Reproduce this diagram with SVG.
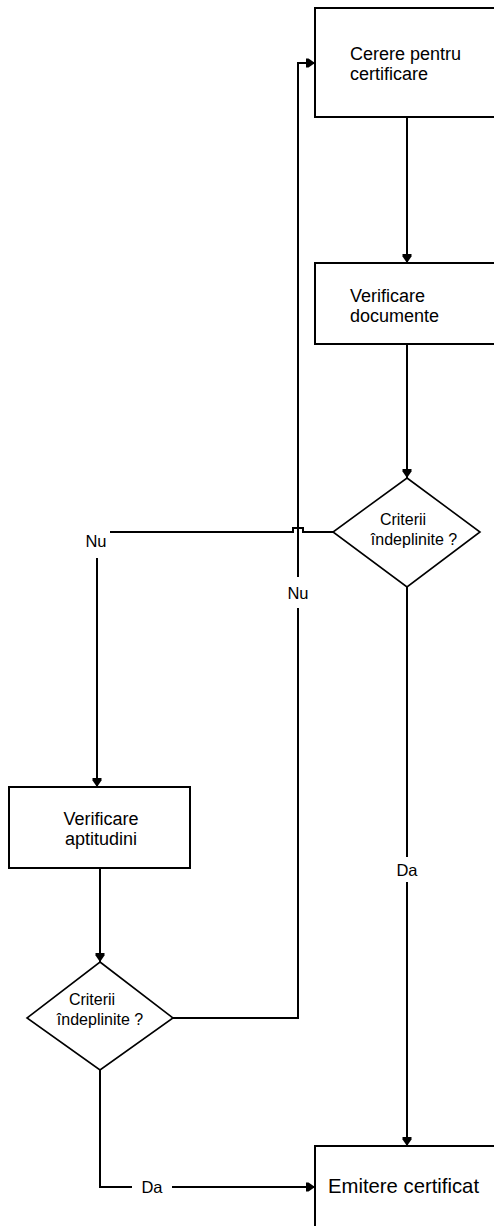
<svg xmlns="http://www.w3.org/2000/svg" width="494" height="1226" viewBox="0 0 494 1226">
  <style>
    .box { fill: #ffffff; stroke: #000000; stroke-width: 2; }
    .dia { fill: #ffffff; stroke: #000000; stroke-width: 1.6; }
    .wire { fill: none; stroke: #000000; stroke-width: 2; }
    .t { font-family: "Liberation Sans", Arial, sans-serif; fill: #000000; }
    .bt { font-size: 18px; }
    .dt { font-size: 16px; text-anchor: middle; }
    .lbl { font-size: 16.5px; text-anchor: middle; }
    .big { font-size: 20.3px; }
  </style>
  <defs>
    <marker id="head" viewBox="0 0 9 10" refX="9" refY="5" markerWidth="9" markerHeight="10" markerUnits="userSpaceOnUse" orient="auto">
      <path d="M0,0.5 L2.5,0.5 L9,5 L2.5,9.5 L0,9.5 Z" fill="#000000"/>
    </marker>
  </defs>
  <rect width="494" height="1226" fill="#ffffff"/>

  <!-- connectors -->
  <g id="connectors">
    <!-- request -> document check -->
    <path class="wire" d="M407,117 V263" marker-end="url(#head)"/>
    <!-- document check -> criteria decision -->
    <path class="wire" d="M407,344 V478" marker-end="url(#head)"/>
    <!-- decision 1: Nu, with a line hop over the return path -->
    <path class="wire" d="M333,532 H303 V528 H293 V532 H110"/>
    <path class="wire" d="M97,558 V787" marker-end="url(#head)"/>
    <!-- decision 1: Da -->
    <path class="wire" d="M407,587 V857"/>
    <path class="wire" d="M407,882 V1146" marker-end="url(#head)"/>
    <!-- aptitude check -> criteria decision 2 -->
    <path class="wire" d="M100,868 V962" marker-end="url(#head)"/>
    <!-- decision 2: Nu, back to the request -->
    <path class="wire" d="M173,1018 H298 V608"/>
    <path class="wire" d="M298,577 V63 H315" marker-end="url(#head)"/>
    <!-- decision 2: Da -->
    <path class="wire" d="M100,1070 V1187 H132"/>
    <path class="wire" d="M172,1187 H315" marker-end="url(#head)"/>
    <text class="t lbl" x="96" y="547">Nu</text>
    <text class="t lbl" x="298" y="599">Nu</text>
    <text class="t lbl" x="407" y="876">Da</text>
    <text class="t lbl" x="152" y="1193">Da</text>
  </g>

  <g id="cerere">
    <rect class="box" x="315" y="8" width="190" height="109"/>
    <text class="t bt" x="350" y="60">Cerere pentru</text>
    <text class="t bt" x="350" y="80">certificare</text>
  </g>

  <g id="verificare-documente">
    <rect class="box" x="315" y="263" width="190" height="81"/>
    <text class="t bt" x="350" y="302">Verificare</text>
    <text class="t bt" x="350" y="322">documente</text>
  </g>

  <g id="criterii-1">
    <polygon class="dia" points="407,478 480,532 407,587 333,532"/>
    <text class="t dt" x="403" y="525">Criterii</text>
    <text class="t dt" x="414" y="545">îndeplinite ?</text>
  </g>

  <g id="verificare-aptitudini">
    <rect class="box" x="9" y="787" width="181" height="81"/>
    <text class="t bt" x="101" y="825" text-anchor="middle">Verificare</text>
    <text class="t bt" x="101" y="845" text-anchor="middle">aptitudini</text>
  </g>

  <g id="criterii-2">
    <polygon class="dia" points="100,962 173,1018 100,1070 27,1018"/>
    <text class="t dt" x="92" y="1005">Criterii</text>
    <text class="t dt" x="100" y="1025">îndeplinite ?</text>
  </g>

  <g id="emitere">
    <rect class="box" x="315" y="1146" width="190" height="90"/>
    <text class="t big" x="328" y="1193">Emitere certificat</text>
  </g>
</svg>
